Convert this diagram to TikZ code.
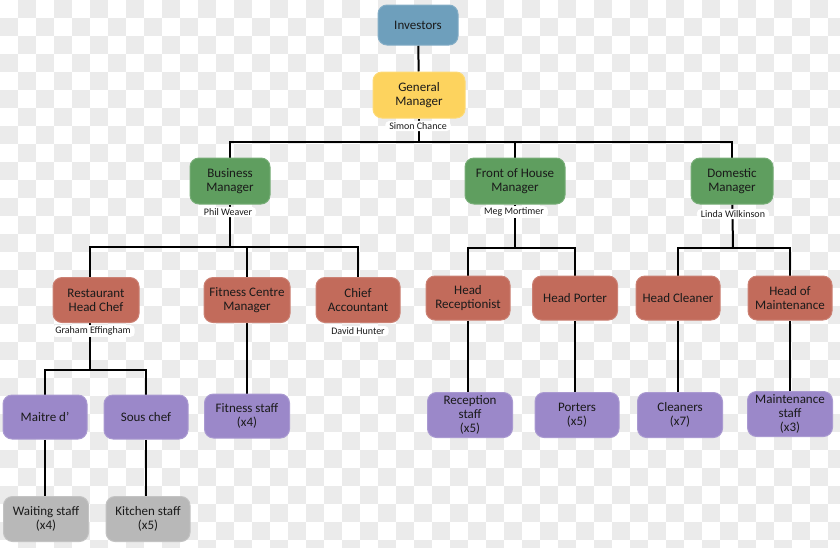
\documentclass[tikz,border=0pt]{standalone}
\usepackage{fontspec}
\setmainfont{Carlito}
\usepackage{tikz}
\usetikzlibrary{positioning,calc,backgrounds}
\definecolor{invblue}{HTML}{6E9FBC}
\definecolor{gmyellow}{HTML}{FDD35E}
\definecolor{mgrgreen}{HTML}{5F9E5F}
\definecolor{headred}{HTML}{C26B5B}
\definecolor{staffpurple}{HTML}{9B88C9}
\definecolor{staffgray}{HTML}{B8B8B8}
\definecolor{checker}{HTML}{EBEBEB}
\definecolor{txt}{HTML}{1A1A1A}
\pgfdeclarelayer{checks}
\pgfdeclarelayer{links}
\pgfsetlayers{checks,links,main}
\tikzset{
  post/.style={rounded corners=9pt, fill=#1, draw=#1!85!white, line width=1pt,
    minimum width=84pt, minimum height=44pt, inner sep=1pt, align=center,
    text=txt, font=\fontsize{13}{14}\selectfont},
  who/.style={fill=white, rounded corners=4pt, inner xsep=4pt, inner ysep=1.5pt,
    text=txt, font=\fontsize{10}{11}\selectfont},
  link/.style={line width=2pt, black}
}

\begin{document}
\begin{tikzpicture}[x=1pt,y=-1pt]
  \useasboundingbox (0,0) rectangle (840,547);
  % background squares
  \begin{pgfonlayer}{checks}
    \begin{scope}
      \clip (0,0) rectangle (840,547);
      \foreach \i in {0,2,...,46} \foreach \j in {1,3,...,31}
        \fill[checker] (\i*18,\j*18) rectangle ++(18,18);
      \foreach \i in {1,3,...,47} \foreach \j in {0,2,...,30}
        \fill[checker] (\i*18,\j*18) rectangle ++(18,18);
    \end{scope}
  \end{pgfonlayer}

  % top
  \node[post=invblue, minimum width=80pt, minimum height=40pt] (inv) at (418,25) {Investors};
  \node[post=gmyellow, minimum width=92pt, minimum height=46pt] (gm) at (419,95) {General\\Manager};
  \node[who] (gmname) at (418,126) {Simon Chance};

  % managers
  \node[post=mgrgreen, minimum width=80pt, minimum height=46pt] (bm) at (230,181) {Business\\Manager};
  \node[post=mgrgreen, minimum width=100pt, minimum height=46pt] (foh) at (515,181) {Front of House\\Manager};
  \node[post=mgrgreen, minimum width=82pt, minimum height=46pt] (dom) at (732,181) {Domestic\\Manager};
  \node[who] (bmname) at (228,212) {Phil Weaver};
  \node[who] (fohname) at (514,212) {Meg Mortimer};
  \node[who] (domname) at (733,214) {Linda Wilkinson};

  % heads
  \node[post=headred, minimum width=86pt, minimum height=45pt] (rhc) at (96,300) {Restaurant\\Head Chef};
  \node[post=headred, minimum width=86pt, minimum height=45pt] (fcm) at (247,300) {Fitness Centre\\Manager};
  \node[post=headred, minimum height=45pt] (ca) at (358,300) {Chief\\Accountant};
  \node[post=headred] (hr) at (468,298) {Head\\Receptionist};
  \node[post=headred, minimum width=85pt] (hp) at (575,298) {Head Porter};
  \node[post=headred] (hc) at (678,298) {Head Cleaner};
  \node[post=headred] (hm) at (790,298) {Head of\\Maintenance};
  \node[who] (rhcname) at (93,331) {Graham Effingham};
  \node[who] (caname) at (358,331) {David Hunter};

  % staff
  \node[post=staffpurple] (md) at (45,417) {Maitre d'};
  \node[post=staffpurple] (sc) at (146,417) {Sous chef};
  \node[post=staffpurple, minimum width=85pt] (fs) at (247,416) {Fitness staff\\(x4)};
  \node[post=staffpurple, minimum width=85pt, minimum height=45pt] (rs) at (470,415) {Reception\\staff\\(x5)};
  \node[post=staffpurple, minimum height=45pt] (po) at (577,415) {Porters\\(x5)};
  \node[post=staffpurple, minimum width=85pt, minimum height=45pt] (cl) at (680,415) {Cleaners\\(x7)};
  \node[post=staffpurple, minimum width=85pt, minimum height=45pt] (ms) at (790,414) {Maintenance\\staff\\(x3)};
  \node[post=staffgray, minimum width=85pt, minimum height=45pt] (ws) at (46,519) {Waiting staff\\(x4)};
  \node[post=staffgray, minimum height=45pt] (ks) at (148,519) {Kitchen staff\\(x5)};

  % bus points
  \coordinate (topbus) at (419,142);
  \coordinate (bmbus) at (230,247);
  \coordinate (fohbus) at (515,248);
  \coordinate (dombus) at (733,248);
  \coordinate (rhcbus) at (90,370);
  \coordinate (rhcstub) at (90,300);

  \begin{pgfonlayer}{links}
    \draw[link] (inv) -- (gm);
    \draw[link] (gm) -- (topbus);
    \draw[link] (bm) |- (topbus) -| (dom);
    \draw[link] (foh) -- (foh |- topbus);
    \draw[link] (bm) -- (bmbus);
    \draw[link] (rhcstub) |- (bmbus) -| (ca);
    \draw[link] (fcm) -- (fcm |- bmbus);
    \draw[link] (foh) -- (fohbus);
    \draw[link] (hr) |- (fohbus) -| (hp);
    \draw[link] (dom) -- (dombus);
    \draw[link] (hc) |- (dombus) -| (hm);
    \draw[link] (rhcstub) -- (rhcbus);
    \draw[link] (md) |- (rhcbus) -| (sc);
    \draw[link] (fcm) -- (fs);
    \draw[link] (hr) -- (hr |- rs.north);
    \draw[link] (hp) -- (hp |- po.north);
    \draw[link] (hc) -- (hc |- cl.north);
    \draw[link] (hm) -- (hm |- ms.north);
    \draw[link] (md) -- (md |- ws.north);
    \draw[link] (sc) -- (sc |- ks.north);
  \end{pgfonlayer}
\end{tikzpicture}
\end{document}
